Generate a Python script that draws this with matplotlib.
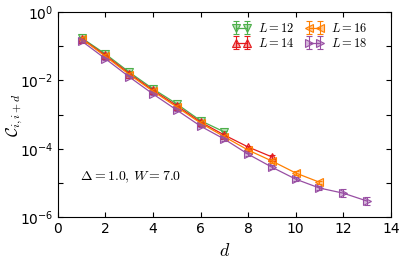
import numpy as np
import matplotlib
matplotlib.use("Agg")
import matplotlib.pyplot as plt
from matplotlib.ticker import FixedLocator, FixedFormatter

plt.rcParams['mathtext.fontset'] = 'cm'

# log10 of the correlation
d12 = [1, 2, 3, 4, 5, 6, 7]
c12 = [-0.76, -1.23, -1.76, -2.25, -2.69, -3.18, -3.51]
e12 = [0.03, 0.03, 0.03, 0.03, 0.03, 0.03, 0.04]

d14 = [1, 2, 3, 4, 5, 6, 7, 8, 9]
c14 = [-0.78, -1.27, -1.80, -2.29, -2.74, -3.22, -3.60, -3.95, -4.24]
e14 = [0.03, 0.03, 0.03, 0.03, 0.03, 0.03, 0.04, 0.04, 0.05]

d16 = [1, 2, 3, 4, 5, 6, 7, 8, 9, 10, 11]
c16 = [-0.79, -1.30, -1.83, -2.32, -2.78, -3.25, -3.65, -4.04, -4.36, -4.71, -4.98]
e16 = [0.03, 0.03, 0.03, 0.03, 0.03, 0.03, 0.04, 0.04, 0.05, 0.05, 0.05]

d18 = [1, 2, 3, 4, 5, 6, 7, 8, 9, 10, 11, 12, 13]
c18 = [-0.85, -1.37, -1.90, -2.40, -2.87, -3.34, -3.72, -4.16, -4.54, -4.89, -5.15, -5.30, -5.53]
e18 = [0.03, 0.03, 0.03, 0.03, 0.03, 0.03, 0.04, 0.04, 0.05, 0.05, 0.07, 0.12, 0.12]

series = [
    (d12, c12, e12, '#4daf4a', 'v', r'$L=12$'),
    (d14, c14, e14, '#e41a1c', '^', r'$L=14$'),
    (d16, c16, e16, '#ff7f00', '<', r'$L=16$'),
    (d18, c18, e18, '#984ea3', '>', r'$L=18$'),
]

fig = plt.figure(figsize=(4.05, 2.6), dpi=100)
ax = fig.add_axes([0.143, 0.165, 0.822, 0.789])

for d, c, e, col, mk, lab in series:
    y = 10 ** np.array(c)
    err = np.array(e)
    lo = y - 10 ** (np.array(c) - err)
    hi = 10 ** (np.array(c) + err) - y
    ax.errorbar(d, y, yerr=[lo, hi], color=col, marker=mk, ms=5.5, lw=0.9,
                mfc=matplotlib.colors.to_rgba(col, 0.4), mec=col, mew=0.8,
                capsize=2, elinewidth=0.8, label=lab)

ax.set_yscale('log')
ax.set_xlim(0, 14)
ax.set_ylim(1e-6, 1)
ax.set_xticks(range(0, 15, 2))
ax.yaxis.set_major_locator(FixedLocator([10.0 ** k for k in range(-6, 1)]))
ax.yaxis.set_major_formatter(FixedFormatter(
    [r'$\mathregular{10^{%d}}$' % k if k % 2 == 0 else '' for k in range(-6, 1)]))
ax.yaxis.set_minor_locator(FixedLocator([]))
ax.tick_params(direction='in', top=True, right=True, labelsize=10)

ax.set_xlabel(r'$d$', fontsize=13)
ax.set_ylabel(r'$\mathcal{C}_{i,i+d}$', fontsize=12)
ax.yaxis.set_label_coords(-0.1, 0.5)
ax.text(0.066, 0.18, r'$\Delta=1.0,\,W=7.0$', transform=ax.transAxes, fontsize=10)

ax.legend(ncol=2, loc='upper right', frameon=False, fontsize=9, numpoints=2,
          handlelength=1.5, handletextpad=0.6, columnspacing=0.8,
          labelspacing=0.15, borderaxespad=0.0,
          bbox_to_anchor=(0.945, 0.975))

fig.savefig('out.png', dpi=100)
